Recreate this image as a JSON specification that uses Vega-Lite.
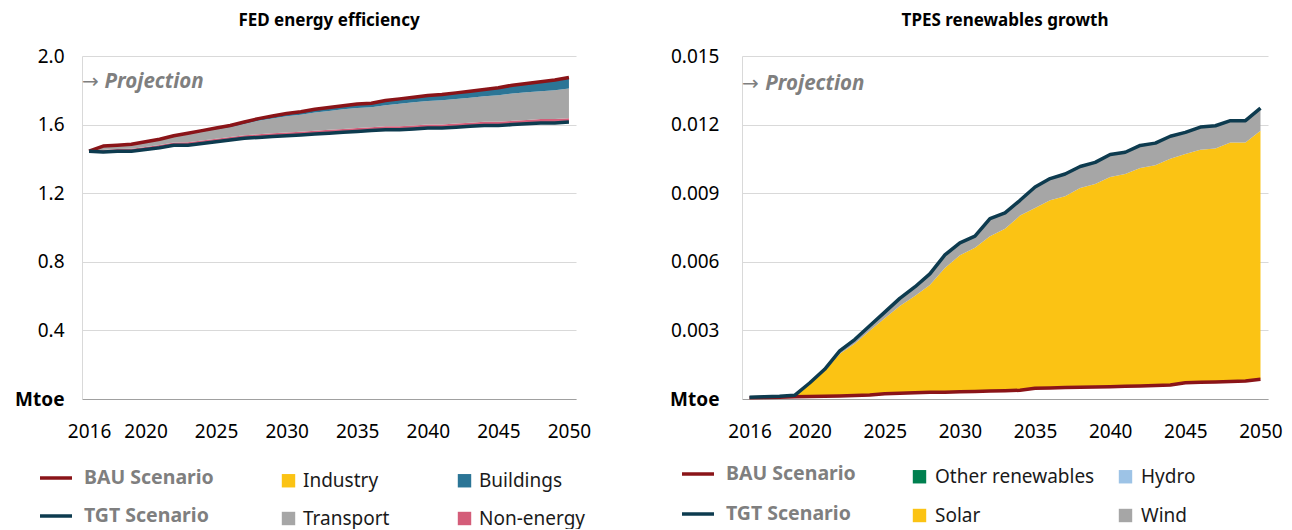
{
  "$schema": "https://vega.github.io/schema/vega-lite/v6.json",
  "padding": {"left": 0, "top": 12, "right": 0, "bottom": 0},
  "autosize": {"type": "pad"},
  "bounds": "flush",
  "spacing": 166,
  "datasets": {
    "ranks": [
      {"part": "TGT Scenario", "rank": 0},
      {"part": "Non-energy", "rank": 1},
      {"part": "Transport", "rank": 2},
      {"part": "Buildings", "rank": 3},
      {"part": "Industry", "rank": 4},
      {"part": "BAU Scenario", "rank": 0},
      {"part": "Solar", "rank": 1},
      {"part": "Wind", "rank": 2},
      {"part": "Hydro", "rank": 3},
      {"part": "Other renewables", "rank": 4}
    ],
    "notes": [
      {"t": "→"}
    ],
    "notes2": [
      {"t": "Projection"}
    ],
    "fed": [
      {"year": 2016, "TGT Scenario": 1.445, "BAU Scenario": 1.445, "Non-energy": 0, "Transport": 0, "Buildings": 0, "Industry": 0},
      {"year": 2017, "TGT Scenario": 1.440, "BAU Scenario": 1.475, "Non-energy": 0.012, "Transport": 0.020, "Buildings": 0.002, "Industry": 0.001},
      {"year": 2018, "TGT Scenario": 1.445, "BAU Scenario": 1.480, "Non-energy": 0.013, "Transport": 0.019, "Buildings": 0.002, "Industry": 0.001},
      {"year": 2019, "TGT Scenario": 1.445, "BAU Scenario": 1.485, "Non-energy": 0.014, "Transport": 0.022, "Buildings": 0.003, "Industry": 0.001},
      {"year": 2020, "TGT Scenario": 1.455, "BAU Scenario": 1.500, "Non-energy": 0.015, "Transport": 0.025, "Buildings": 0.004, "Industry": 0.001},
      {"year": 2021, "TGT Scenario": 1.465, "BAU Scenario": 1.515, "Non-energy": 0.016, "Transport": 0.028, "Buildings": 0.005, "Industry": 0.001},
      {"year": 2022, "TGT Scenario": 1.480, "BAU Scenario": 1.535, "Non-energy": 0.016, "Transport": 0.032, "Buildings": 0.006, "Industry": 0.001},
      {"year": 2023, "TGT Scenario": 1.480, "BAU Scenario": 1.550, "Non-energy": 0.017, "Transport": 0.046, "Buildings": 0.006, "Industry": 0.001},
      {"year": 2024, "TGT Scenario": 1.490, "BAU Scenario": 1.565, "Non-energy": 0.017, "Transport": 0.050, "Buildings": 0.007, "Industry": 0.001},
      {"year": 2025, "TGT Scenario": 1.500, "BAU Scenario": 1.580, "Non-energy": 0.018, "Transport": 0.053, "Buildings": 0.008, "Industry": 0.001},
      {"year": 2026, "TGT Scenario": 1.510, "BAU Scenario": 1.595, "Non-energy": 0.018, "Transport": 0.057, "Buildings": 0.009, "Industry": 0.001},
      {"year": 2027, "TGT Scenario": 1.520, "BAU Scenario": 1.615, "Non-energy": 0.018, "Transport": 0.066, "Buildings": 0.010, "Industry": 0.001},
      {"year": 2028, "TGT Scenario": 1.525, "BAU Scenario": 1.635, "Non-energy": 0.019, "Transport": 0.078, "Buildings": 0.012, "Industry": 0.001},
      {"year": 2029, "TGT Scenario": 1.530, "BAU Scenario": 1.650, "Non-energy": 0.019, "Transport": 0.087, "Buildings": 0.013, "Industry": 0.001},
      {"year": 2030, "TGT Scenario": 1.535, "BAU Scenario": 1.665, "Non-energy": 0.019, "Transport": 0.095, "Buildings": 0.015, "Industry": 0.001},
      {"year": 2031, "TGT Scenario": 1.540, "BAU Scenario": 1.675, "Non-energy": 0.019, "Transport": 0.099, "Buildings": 0.016, "Industry": 0.001},
      {"year": 2032, "TGT Scenario": 1.545, "BAU Scenario": 1.690, "Non-energy": 0.019, "Transport": 0.107, "Buildings": 0.018, "Industry": 0.001},
      {"year": 2033, "TGT Scenario": 1.550, "BAU Scenario": 1.700, "Non-energy": 0.020, "Transport": 0.110, "Buildings": 0.019, "Industry": 0.001},
      {"year": 2034, "TGT Scenario": 1.555, "BAU Scenario": 1.710, "Non-energy": 0.020, "Transport": 0.114, "Buildings": 0.020, "Industry": 0.001},
      {"year": 2035, "TGT Scenario": 1.560, "BAU Scenario": 1.720, "Non-energy": 0.020, "Transport": 0.117, "Buildings": 0.022, "Industry": 0.001},
      {"year": 2036, "TGT Scenario": 1.565, "BAU Scenario": 1.725, "Non-energy": 0.020, "Transport": 0.116, "Buildings": 0.023, "Industry": 0.001},
      {"year": 2037, "TGT Scenario": 1.570, "BAU Scenario": 1.740, "Non-energy": 0.020, "Transport": 0.123, "Buildings": 0.025, "Industry": 0.002},
      {"year": 2038, "TGT Scenario": 1.570, "BAU Scenario": 1.750, "Non-energy": 0.020, "Transport": 0.132, "Buildings": 0.026, "Industry": 0.002},
      {"year": 2039, "TGT Scenario": 1.575, "BAU Scenario": 1.760, "Non-energy": 0.020, "Transport": 0.135, "Buildings": 0.028, "Industry": 0.002},
      {"year": 2040, "TGT Scenario": 1.580, "BAU Scenario": 1.770, "Non-energy": 0.020, "Transport": 0.138, "Buildings": 0.030, "Industry": 0.002},
      {"year": 2041, "TGT Scenario": 1.580, "BAU Scenario": 1.775, "Non-energy": 0.021, "Transport": 0.141, "Buildings": 0.031, "Industry": 0.002},
      {"year": 2042, "TGT Scenario": 1.585, "BAU Scenario": 1.785, "Non-energy": 0.021, "Transport": 0.143, "Buildings": 0.033, "Industry": 0.003},
      {"year": 2043, "TGT Scenario": 1.590, "BAU Scenario": 1.795, "Non-energy": 0.021, "Transport": 0.146, "Buildings": 0.035, "Industry": 0.003},
      {"year": 2044, "TGT Scenario": 1.595, "BAU Scenario": 1.805, "Non-energy": 0.021, "Transport": 0.149, "Buildings": 0.037, "Industry": 0.003},
      {"year": 2045, "TGT Scenario": 1.595, "BAU Scenario": 1.815, "Non-energy": 0.021, "Transport": 0.155, "Buildings": 0.040, "Industry": 0.004},
      {"year": 2046, "TGT Scenario": 1.600, "BAU Scenario": 1.830, "Non-energy": 0.022, "Transport": 0.159, "Buildings": 0.045, "Industry": 0.004},
      {"year": 2047, "TGT Scenario": 1.605, "BAU Scenario": 1.840, "Non-energy": 0.022, "Transport": 0.161, "Buildings": 0.048, "Industry": 0.004},
      {"year": 2048, "TGT Scenario": 1.610, "BAU Scenario": 1.850, "Non-energy": 0.022, "Transport": 0.163, "Buildings": 0.050, "Industry": 0.005},
      {"year": 2049, "TGT Scenario": 1.610, "BAU Scenario": 1.860, "Non-energy": 0.022, "Transport": 0.168, "Buildings": 0.055, "Industry": 0.005},
      {"year": 2050, "TGT Scenario": 1.615, "BAU Scenario": 1.875, "Non-energy": 0.022, "Transport": 0.173, "Buildings": 0.060, "Industry": 0.005}
    ],
    "tpes": [
      {"year": 2016, "BAU Scenario": 0.00006, "TGT Scenario": 0.00008, "Solar": 0.00001, "Wind": 0.00001, "Hydro": 0, "Other renewables": 0},
      {"year": 2017, "BAU Scenario": 0.00007, "TGT Scenario": 0.00010, "Solar": 0.00002, "Wind": 0.00001, "Hydro": 0, "Other renewables": 0},
      {"year": 2018, "BAU Scenario": 0.00008, "TGT Scenario": 0.00012, "Solar": 0.00003, "Wind": 0.00001, "Hydro": 0, "Other renewables": 0},
      {"year": 2019, "BAU Scenario": 0.00010, "TGT Scenario": 0.00016, "Solar": 0.00005, "Wind": 0.00001, "Hydro": 0, "Other renewables": 0},
      {"year": 2020, "BAU Scenario": 0.00011, "TGT Scenario": 0.00070, "Solar": 0.00055, "Wind": 0.00004, "Hydro": 0, "Other renewables": 0},
      {"year": 2021, "BAU Scenario": 0.00012, "TGT Scenario": 0.00130, "Solar": 0.00110, "Wind": 0.00008, "Hydro": 0, "Other renewables": 0},
      {"year": 2022, "BAU Scenario": 0.00013, "TGT Scenario": 0.00210, "Solar": 0.00184, "Wind": 0.00013, "Hydro": 0, "Other renewables": 0},
      {"year": 2023, "BAU Scenario": 0.00015, "TGT Scenario": 0.00260, "Solar": 0.00227, "Wind": 0.00018, "Hydro": 0, "Other renewables": 0},
      {"year": 2024, "BAU Scenario": 0.00017, "TGT Scenario": 0.00320, "Solar": 0.00281, "Wind": 0.00022, "Hydro": 0, "Other renewables": 0},
      {"year": 2025, "BAU Scenario": 0.00023, "TGT Scenario": 0.00380, "Solar": 0.00330, "Wind": 0.00027, "Hydro": 0, "Other renewables": 0},
      {"year": 2026, "BAU Scenario": 0.00025, "TGT Scenario": 0.00440, "Solar": 0.00382, "Wind": 0.00033, "Hydro": 0, "Other renewables": 0},
      {"year": 2027, "BAU Scenario": 0.00027, "TGT Scenario": 0.00490, "Solar": 0.00423, "Wind": 0.00040, "Hydro": 0, "Other renewables": 0},
      {"year": 2028, "BAU Scenario": 0.00029, "TGT Scenario": 0.00547, "Solar": 0.00470, "Wind": 0.00048, "Hydro": 0, "Other renewables": 0},
      {"year": 2029, "BAU Scenario": 0.00030, "TGT Scenario": 0.00630, "Solar": 0.00543, "Wind": 0.00057, "Hydro": 0, "Other renewables": 0},
      {"year": 2030, "BAU Scenario": 0.00032, "TGT Scenario": 0.00683, "Solar": 0.00597, "Wind": 0.00054, "Hydro": 0, "Other renewables": 0},
      {"year": 2031, "BAU Scenario": 0.00033, "TGT Scenario": 0.00712, "Solar": 0.00628, "Wind": 0.00051, "Hydro": 0, "Other renewables": 0},
      {"year": 2032, "BAU Scenario": 0.00035, "TGT Scenario": 0.00789, "Solar": 0.00677, "Wind": 0.00077, "Hydro": 0, "Other renewables": 0},
      {"year": 2033, "BAU Scenario": 0.00036, "TGT Scenario": 0.00814, "Solar": 0.00708, "Wind": 0.00070, "Hydro": 0, "Other renewables": 0},
      {"year": 2034, "BAU Scenario": 0.00038, "TGT Scenario": 0.00869, "Solar": 0.00764, "Wind": 0.00067, "Hydro": 0, "Other renewables": 0},
      {"year": 2035, "BAU Scenario": 0.00047, "TGT Scenario": 0.00927, "Solar": 0.00788, "Wind": 0.00092, "Hydro": 0, "Other renewables": 0},
      {"year": 2036, "BAU Scenario": 0.00048, "TGT Scenario": 0.00964, "Solar": 0.00821, "Wind": 0.00095, "Hydro": 0, "Other renewables": 0},
      {"year": 2037, "BAU Scenario": 0.00050, "TGT Scenario": 0.00984, "Solar": 0.00837, "Wind": 0.00097, "Hydro": 0, "Other renewables": 0},
      {"year": 2038, "BAU Scenario": 0.00051, "TGT Scenario": 0.01017, "Solar": 0.00872, "Wind": 0.00094, "Hydro": 0, "Other renewables": 0},
      {"year": 2039, "BAU Scenario": 0.00052, "TGT Scenario": 0.01035, "Solar": 0.00888, "Wind": 0.00095, "Hydro": 0, "Other renewables": 0},
      {"year": 2040, "BAU Scenario": 0.00054, "TGT Scenario": 0.01069, "Solar": 0.00917, "Wind": 0.00098, "Hydro": 0, "Other renewables": 0},
      {"year": 2041, "BAU Scenario": 0.00056, "TGT Scenario": 0.01079, "Solar": 0.00928, "Wind": 0.00095, "Hydro": 0, "Other renewables": 0},
      {"year": 2042, "BAU Scenario": 0.00057, "TGT Scenario": 0.01109, "Solar": 0.00953, "Wind": 0.00099, "Hydro": 0, "Other renewables": 0},
      {"year": 2043, "BAU Scenario": 0.00059, "TGT Scenario": 0.01119, "Solar": 0.00963, "Wind": 0.00097, "Hydro": 0, "Other renewables": 0},
      {"year": 2044, "BAU Scenario": 0.00061, "TGT Scenario": 0.01149, "Solar": 0.00990, "Wind": 0.00098, "Hydro": 0, "Other renewables": 0},
      {"year": 2045, "BAU Scenario": 0.00071, "TGT Scenario": 0.01166, "Solar": 0.01000, "Wind": 0.00095, "Hydro": 0, "Other renewables": 0},
      {"year": 2046, "BAU Scenario": 0.00073, "TGT Scenario": 0.01189, "Solar": 0.01017, "Wind": 0.00099, "Hydro": 0, "Other renewables": 0},
      {"year": 2047, "BAU Scenario": 0.00074, "TGT Scenario": 0.01195, "Solar": 0.01021, "Wind": 0.00100, "Hydro": 0, "Other renewables": 0},
      {"year": 2048, "BAU Scenario": 0.00076, "TGT Scenario": 0.01217, "Solar": 0.01046, "Wind": 0.00095, "Hydro": 0, "Other renewables": 0},
      {"year": 2049, "BAU Scenario": 0.00079, "TGT Scenario": 0.01217, "Solar": 0.01043, "Wind": 0.00095, "Hydro": 0, "Other renewables": 0},
      {"year": 2050, "BAU Scenario": 0.00086, "TGT Scenario": 0.01272, "Solar": 0.01087, "Wind": 0.00099, "Hydro": 0, "Other renewables": 0}
    ]
  },
  "hconcat": [
    {
      "width": 494,
      "height": 343,
      "title": {"text": "FED energy efficiency"},
      "layer": [
        {
          "data": {"name": "fed"},
          "transform": [
            {"fold": ["TGT Scenario", "Non-energy", "Transport", "Buildings", "Industry"], "as": ["part", "v"]},
            {"lookup": "part", "from": {"data": {"name": "ranks"}, "key": "part", "fields": ["rank"]}}
          ],
          "mark": {"type": "area", "interpolate": "linear"},
          "encoding": {
            "x": {
              "field": "year", "type": "quantitative",
              "scale": {"domain": [2015.5, 2050.5], "nice": false, "zero": false},
              "axis": {"values": [2016, 2020, 2025, 2030, 2035, 2040, 2045, 2050], "format": "d", "title": null}
            },
            "y": {
              "field": "v", "type": "quantitative", "stack": "zero",
              "scale": {"domain": [0, 2], "nice": false},
              "axis": {
                "values": [0, 0.4, 0.8, 1.2, 1.6, 2.0], "title": null,
                "labelExpr": "datum.value === 0 ? 'Mtoe' : format(datum.value, '.1f')",
                "labelFontWeight": {"condition": {"test": "datum.value === 0", "value": "bold"}, "value": "normal"},
                "labelPadding": 18
              }
            },
            "fill": {
              "field": "part", "type": "nominal",
              "scale": {
                "domain": ["TGT Scenario", "Non-energy", "Transport", "Buildings", "Industry"],
                "range": ["rgba(0,0,0,0)", "#d45d79", "#a6a6a6", "#2b7596", "#fbc314"]
              },
              "legend": {
                "orient": "none", "legendX": 197, "legendY": 415,
                "values": ["Industry", "Transport", "Buildings", "Non-energy"],
                "columns": 2, "columnPadding": 65, "rowPadding": 18,
                "symbolType": "square", "symbolSize": 180, "symbolStrokeWidth": 0,
                "labelFontSize": 19, "labelColor": "#1a1a1a", "labelOffset": 5, "title": null
              }
            },
            "order": {"field": "rank", "type": "quantitative"}
          }
        },
        {
          "data": {"name": "fed"},
          "mark": {"type": "line", "strokeWidth": 3.5, "strokeJoin": "round"},
          "encoding": {
            "x": {"field": "year", "type": "quantitative"},
            "y": {"field": "BAU Scenario", "type": "quantitative"},
            "stroke": {
              "datum": "BAU Scenario",
              "scale": {"domain": ["BAU Scenario", "TGT Scenario"], "range": ["#8a1418", "#0d3b4f"]},
              "legend": {
                "orient": "none", "legendX": -44, "legendY": 404, "title": null,
                "symbolType": "stroke", "symbolSize": 1024, "symbolStrokeWidth": 3.5,
                "labelFontSize": 19.5, "labelFontWeight": "bold", "labelColor": "#7f7f7f",
                "labelOffset": 10, "rowPadding": 10
              }
            }
          }
        },
        {
          "data": {"name": "fed"},
          "mark": {"type": "line", "strokeWidth": 3.5, "strokeJoin": "round"},
          "encoding": {
            "x": {"field": "year", "type": "quantitative"},
            "y": {"field": "TGT Scenario", "type": "quantitative"},
            "stroke": {"datum": "TGT Scenario"}
          }
        },
        {
          "data": {"name": "notes"},
          "mark": {"type": "text", "align": "left", "baseline": "middle", "fontSize": 20, "font": "DejaVu Sans", "fill": "#7f7f7f"},
          "encoding": {
            "text": {"field": "t", "type": "nominal"},
            "x": {"datum": 2015.5, "type": "quantitative"},
            "y": {"datum": 1.846, "type": "quantitative"}
          }
        },
        {
          "data": {"name": "notes2"},
          "mark": {"type": "text", "align": "left", "baseline": "middle", "fontSize": 20.5, "fontWeight": "bold", "fontStyle": "italic", "fill": "#7f7f7f"},
          "encoding": {
            "text": {"field": "t", "type": "nominal"},
            "x": {"datum": 2017.1, "type": "quantitative"},
            "y": {"datum": 1.846, "type": "quantitative"}
          }
        }
      ]
    },
    {
      "width": 526,
      "height": 343,
      "title": {"text": "TPES renewables growth"},
      "layer": [
        {
          "data": {"name": "tpes"},
          "transform": [
            {"fold": ["BAU Scenario", "Solar", "Wind", "Hydro", "Other renewables"], "as": ["part", "v"]},
            {"lookup": "part", "from": {"data": {"name": "ranks"}, "key": "part", "fields": ["rank"]}}
          ],
          "mark": {"type": "area", "interpolate": "linear"},
          "encoding": {
            "x": {
              "field": "year", "type": "quantitative",
              "scale": {"domain": [2015.5, 2050.5], "nice": false, "zero": false},
              "axis": {"values": [2016, 2020, 2025, 2030, 2035, 2040, 2045, 2050], "format": "d", "title": null}
            },
            "y": {
              "field": "v", "type": "quantitative", "stack": "zero",
              "scale": {"domain": [0, 0.015], "nice": false},
              "axis": {
                "values": [0, 0.003, 0.006, 0.009, 0.012, 0.015], "title": null,
                "labelExpr": "datum.value === 0 ? 'Mtoe' : format(datum.value, '.3f')",
                "labelFontWeight": {"condition": {"test": "datum.value === 0", "value": "bold"}, "value": "normal"},
                "labelPadding": 23
              }
            },
            "fill": {
              "field": "part", "type": "nominal",
              "scale": {
                "domain": ["BAU Scenario", "Solar", "Wind", "Hydro", "Other renewables"],
                "range": ["rgba(0,0,0,0)", "#fbc314", "#a6a6a6", "#9dc3e6", "#00804f"]
              },
              "legend": {
                "orient": "none", "legendX": 168, "legendY": 411,
                "values": ["Other renewables", "Solar", "Hydro", "Wind"],
                "columns": 2, "columnPadding": 21, "rowPadding": 19,
                "symbolType": "square", "symbolSize": 180, "symbolStrokeWidth": 0,
                "labelFontSize": 19, "labelColor": "#1a1a1a", "labelOffset": 6, "title": null
              }
            },
            "order": {"field": "rank", "type": "quantitative"}
          }
        },
        {
          "data": {"name": "tpes"},
          "mark": {"type": "line", "strokeWidth": 3.5, "strokeJoin": "round"},
          "encoding": {
            "x": {"field": "year", "type": "quantitative"},
            "y": {"field": "BAU Scenario", "type": "quantitative"},
            "stroke": {
              "datum": "BAU Scenario",
              "scale": {"domain": ["BAU Scenario", "TGT Scenario"], "range": ["#8a1418", "#0d3b4f"]},
              "legend": {
                "orient": "none", "legendX": -62, "legendY": 400, "title": null,
                "symbolType": "stroke", "symbolSize": 1024, "symbolStrokeWidth": 3.5,
                "labelFontSize": 19.5, "labelFontWeight": "bold", "labelColor": "#7f7f7f",
                "labelOffset": 10, "rowPadding": 12
              }
            }
          }
        },
        {
          "data": {"name": "tpes"},
          "mark": {"type": "line", "strokeWidth": 3.5, "strokeJoin": "round"},
          "encoding": {
            "x": {"field": "year", "type": "quantitative"},
            "y": {"field": "TGT Scenario", "type": "quantitative"},
            "stroke": {"datum": "TGT Scenario"}
          }
        },
        {
          "data": {"name": "notes"},
          "mark": {"type": "text", "align": "left", "baseline": "middle", "fontSize": 20, "font": "DejaVu Sans", "fill": "#7f7f7f"},
          "encoding": {
            "text": {"field": "t", "type": "nominal"},
            "x": {"datum": 2015.5, "type": "quantitative"},
            "y": {"datum": 0.01376, "type": "quantitative"}
          }
        },
        {
          "data": {"name": "notes2"},
          "mark": {"type": "text", "align": "left", "baseline": "middle", "fontSize": 20.5, "fontWeight": "bold", "fontStyle": "italic", "fill": "#7f7f7f"},
          "encoding": {
            "text": {"field": "t", "type": "nominal"},
            "x": {"datum": 2017.05, "type": "quantitative"},
            "y": {"datum": 0.01376, "type": "quantitative"}
          }
        }
      ]
    }
  ],
  "resolve": {
    "scale": {"x": "independent", "y": "independent", "fill": "independent", "stroke": "independent"},
    "legend": {"fill": "independent", "stroke": "independent"}
  },
  "config": {
    "font": "Noto Sans",
    "view": {"stroke": null},
    "title": {"fontSize": 17, "fontWeight": "bold", "color": "#000000", "frame": "group", "anchor": "middle", "offset": 17},
    "axisX": {
      "grid": false, "ticks": false, "domainColor": "#a0a0a0", "domainWidth": 1,
      "labelFontSize": 19, "labelColor": "#000000", "labelPadding": 23,
      "labelOverlap": false, "labelFlush": false, "labelBound": false
    },
    "axisY": {
      "ticks": false, "domainColor": "#d9d9d9", "domainWidth": 1,
      "gridColor": "#d9d9d9", "gridWidth": 1,
      "labelFontSize": 19, "labelColor": "#000000",
      "labelOverlap": false, "labelBound": false, "labelFlush": false,
      "minExtent": 82, "maxExtent": 82
    },
    "legend": {"labelFont": "Noto Sans"}
  }
}
